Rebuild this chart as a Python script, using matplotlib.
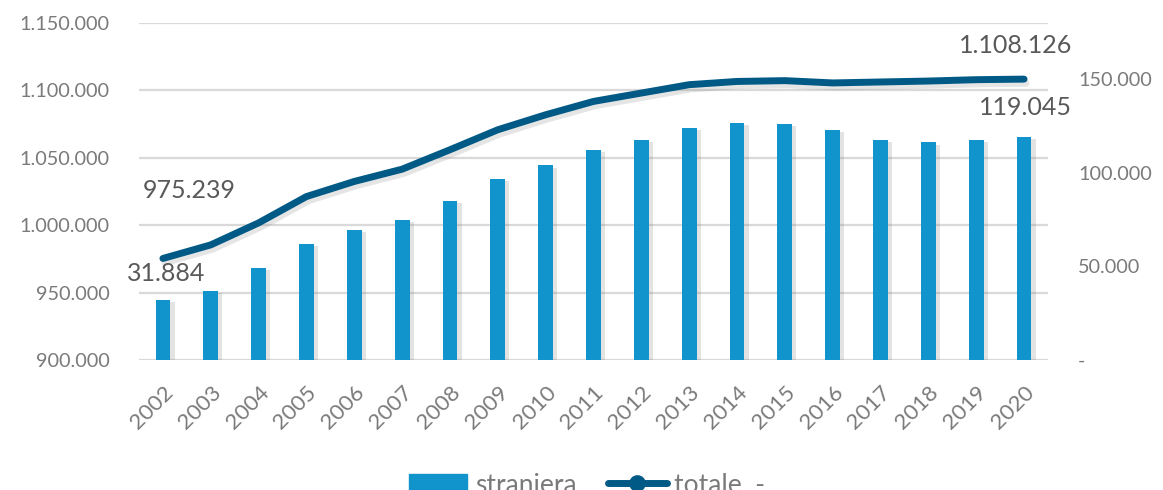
import matplotlib
matplotlib.use("Agg")
import matplotlib.pyplot as plt
import matplotlib.patheffects as pe
from matplotlib.lines import Line2D
from matplotlib.patches import Patch
from matplotlib.ticker import FuncFormatter, FixedLocator
import numpy as np

years = ["2002", "2003", "2004", "2005", "2006", "2007", "2008", "2009", "2010",
         "2011", "2012", "2013", "2014", "2015", "2016", "2017", "2018", "2019", "2020"]

# popolazione straniera (asse destro)
straniera = [31884, 36850, 49100, 61950, 69250, 74600, 84900, 96700, 103800,
             112150, 117350, 123900, 126600, 125900, 122850, 117500, 116050, 117500, 119045]

# popolazione totale (asse sinistro)
totale = [975239, 985300, 1001600, 1021100, 1032300, 1041400, 1055800, 1070600, 1081700,
          1091600, 1097800, 1104000, 1106400, 1107000, 1105300, 1106000, 1106700, 1107700, 1108126]

left_ticks = [900000, 950000, 1000000, 1050000, 1100000, 1150000]
right_ticks = [0, 50000, 100000, 150000]

bar_color = "#1094CB"
line_color = "#015A86"
tick_color = "#7A7A7A"
label_color = "#595959"

plt.rcParams["font.family"] = ["Lato", "DejaVu Sans"]


def it_fmt(v, pos=None):
    if v == 0:
        return "-"
    return f"{v:,.0f}".replace(",", ".")


fig = plt.figure(figsize=(11.63, 4.9), dpi=100)
ax = fig.add_axes([139 / 1163, 130 / 490, 909 / 1163, 337.4 / 490])
ax2 = ax.twinx()

x = np.arange(len(years))

# linea totale (asse sinistro, con griglia)
ax.plot(x, totale, color=line_color, lw=5, solid_capstyle="round", zorder=3,
        path_effects=[pe.SimpleLineShadow(offset=(1.5, -3), shadow_color="gray", alpha=0.2),
                      pe.Normal()])
ax.set_ylim(900000, 1150000)
ax.yaxis.set_major_locator(FixedLocator(left_ticks))
ax.yaxis.set_major_formatter(FuncFormatter(it_fmt))
ax.grid(axis="y", color="#D9D9D9", lw=1.6)
ax.set_axisbelow(True)
ax.set_xlim(-0.5, len(years) - 0.5)

# barre straniera (asse destro)
ax2.bar(x, straniera, width=0.31, color=bar_color, zorder=2,
        path_effects=[pe.SimplePatchShadow(offset=(3, -1.5), shadow_rgbFace="gray", alpha=0.22),
                      pe.Normal()])
ax2.set_ylim(0, 180000)
ax2.yaxis.set_major_locator(FixedLocator(right_ticks))
ax2.yaxis.set_major_formatter(FuncFormatter(it_fmt))

for a in (ax, ax2):
    for s in a.spines.values():
        s.set_visible(False)
    a.tick_params(length=0, labelsize=14.3, labelcolor=tick_color)

ax.tick_params(axis="y", pad=21)
ax2.tick_params(axis="y", pad=21.5)
ax.set_xticks(x, labels=years, rotation=45, ha="right", rotation_mode="anchor")
ax.tick_params(axis="x", pad=16, labelsize=16)

# etichette dati
ax.annotate(it_fmt(totale[0]), (x[0], totale[0]), xytext=(19, 49), textcoords="offset points",
            ha="center", va="center", fontsize=18, color=label_color)
ax.annotate(it_fmt(totale[-1]), (x[-1], totale[-1]), xytext=(-6, 24), textcoords="offset points",
            ha="center", va="center", fontsize=18, color=label_color)
ax2.annotate(it_fmt(straniera[0]), (x[0], straniera[0]), xytext=(2, 19), textcoords="offset points",
             ha="center", va="center", fontsize=18, color=label_color)
ax2.annotate(it_fmt(straniera[-1]), (x[-1], straniera[-1]), xytext=(1, 21), textcoords="offset points",
             ha="center", va="center", fontsize=18, color=label_color)

handles = [Patch(color=bar_color),
           Line2D([0], [0], color=line_color, lw=5, marker="o", markersize=11,
                  solid_capstyle="round")]
fig.legend(handles, ["straniera", "totale  -"], loc="center", bbox_to_anchor=(0.505, 5 / 490),
           ncol=2, frameon=False, fontsize=19, labelcolor=tick_color,
           handlelength=2.2, handletextpad=0.3, columnspacing=1.2)

fig.savefig("out.png", dpi=100)
